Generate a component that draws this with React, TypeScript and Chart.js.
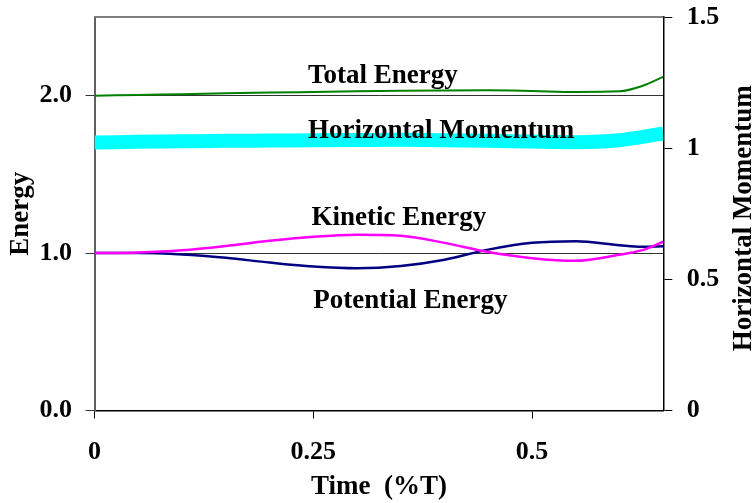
import { useEffect, useRef } from "react";
import { Chart, registerables } from "chart.js";

Chart.register(...registerables);

const timeValues = [0, 0.05, 0.1, 0.15, 0.2, 0.25, 0.3, 0.35, 0.4, 0.45, 0.5, 0.55, 0.6, 0.625, 0.65];
const totalEnergy = [2.0, 2.005, 2.01, 2.015, 2.02, 2.024, 2.028, 2.031, 2.033, 2.034, 2.03, 2.024, 2.028, 2.06, 2.12];
const horizontalMomentum = [1.022, 1.024, 1.026, 1.028, 1.029, 1.03, 1.031, 1.032, 1.03, 1.028, 1.025, 1.023, 1.03, 1.042, 1.056];
const kineticEnergy = [1.0, 1.004, 1.018, 1.045, 1.078, 1.104, 1.117, 1.11, 1.065, 1.007, 0.968, 0.951, 0.99, 1.017, 1.072];
const potentialEnergy = [1.0, 1.0, 0.991, 0.97, 0.94, 0.915, 0.904, 0.918, 0.958, 1.022, 1.065, 1.076, 1.05, 1.04, 1.043];

const energyTicks = [0, 1, 2];
const momentumTicks = [0, 0.5, 1, 1.5];
const timeTicks = [0, 0.25, 0.5];

const seriesLabels = [
  { text: "Total Energy", t: 0.244, e: 2.083 },
  { text: "Horizontal Momentum", t: 0.244, e: 1.733 },
  { text: "Kinetic Energy", t: 0.248, e: 1.18 },
  { text: "Potential Energy", t: 0.25, e: 0.652 },
];

const FONT = "'Liberation Serif', 'Times New Roman', serif";

const toPoints = (ys: number[]) => ys.map((y, i) => ({ x: timeValues[i], y }));

const overlayPlugin = {
  id: "overlay",
  afterDatasetsDraw(chart: any) {
    const { ctx, scales } = chart;
    ctx.save();
    ctx.fillStyle = "#000";
    ctx.font = `bold 27px ${FONT}`;
    ctx.textAlign = "left";
    ctx.textBaseline = "alphabetic";
    for (const l of seriesLabels) {
      ctx.fillText(l.text, scales.x.getPixelForValue(l.t), scales.y.getPixelForValue(l.e));
    }
    ctx.restore();
  },
  afterDraw(chart: any) {
    const { ctx, chartArea } = chart;
    ctx.save();
    ctx.strokeStyle = "#808080";
    ctx.lineWidth = 2;
    ctx.beginPath();
    ctx.moveTo(chartArea.left, chartArea.top);
    ctx.lineTo(chartArea.right, chartArea.top);
    ctx.stroke();
    // right axis title, reading bottom to top
    ctx.translate(chartArea.right + 81, (chartArea.top + chartArea.bottom) / 2 + 4.5);
    ctx.rotate(-Math.PI / 2);
    ctx.fillStyle = "#000";
    ctx.font = `bold 27px ${FONT}`;
    ctx.textAlign = "center";
    ctx.textBaseline = "middle";
    ctx.fillText("Horizontal Momentum", 0, 0);
    ctx.restore();
  },
};

const zeroPad = (s: any) => {
  s.paddingTop = 0;
  s.paddingBottom = 0;
  s.paddingLeft = 0;
  s.paddingRight = 0;
};

export default function App() {
  const ref = useRef<HTMLCanvasElement | null>(null);
  useEffect(() => {
    if (!ref.current) return;
    const tickFont = { family: FONT, size: 26, weight: "bold" as const };
    const titleFont = { family: FONT, size: 27, weight: "bold" as const };
    const chart = new Chart(ref.current, {
      type: "line",
      data: {
        datasets: [
          {
            label: "Total Energy",
            data: toPoints(totalEnergy),
            borderColor: "#008000",
            borderWidth: 2,
            yAxisID: "y",
          },
          {
            label: "Kinetic Energy",
            data: toPoints(kineticEnergy),
            borderColor: "#FF00FF",
            borderWidth: 2.5,
            yAxisID: "y",
          },
          {
            label: "Potential Energy",
            data: toPoints(potentialEnergy),
            borderColor: "#000080",
            borderWidth: 2.5,
            yAxisID: "y",
          },
          {
            label: "Horizontal Momentum",
            data: toPoints(horizontalMomentum),
            borderColor: "#00FFFF",
            borderWidth: 14,
            yAxisID: "y2",
          },
        ],
      },
      options: {
        animation: false,
        responsive: false,
        events: [],
        layout: { padding: { top: 17, left: 0, right: 0, bottom: 0 } },
        elements: {
          point: { radius: 0 },
          line: { cubicInterpolationMode: "monotone", fill: false, borderCapStyle: "butt" },
        },
        plugins: { legend: { display: false }, tooltip: { enabled: false } },
        scales: {
          x: {
            type: "linear",
            min: 0,
            max: 0.65,
            afterBuildTicks: (s: any) => {
              s.ticks = timeTicks.map((v) => ({ value: v }));
            },
            afterFit: (s: any) => {
              s.height = 92.5;
              zeroPad(s);
            },
            grid: { drawOnChartArea: false, tickLength: 8, color: "#000", lineWidth: 1 },
            border: { color: "#000", width: 1.5 },
            ticks: { font: tickFont, color: "#000", padding: 18, maxRotation: 0, callback: (v: any) => String(v) },
            title: {
              display: true,
              text: "Time  (%T)",
              color: "#000",
              font: titleFont,
              padding: { top: 0, bottom: 0 },
            },
          },
          y: {
            type: "linear",
            position: "left",
            min: 0,
            max: 2.5,
            afterBuildTicks: (s: any) => {
              s.ticks = energyTicks.map((v) => ({ value: v }));
            },
            afterFit: (s: any) => {
              s.width = 94.5;
              zeroPad(s);
            },
            grid: { drawOnChartArea: true, tickLength: 9, color: "#333", lineWidth: 1 },
            border: { color: "#606060", width: 2 },
            ticks: { font: tickFont, color: "#000", padding: 13.5, callback: (v: any) => Number(v).toFixed(1) },
            title: {
              display: true,
              text: "Energy",
              color: "#000",
              font: titleFont,
              padding: { top: 4.5, bottom: 0 },
            },
          },
          y2: {
            type: "linear",
            position: "right",
            min: 0,
            max: 1.5,
            afterBuildTicks: (s: any) => {
              s.ticks = momentumTicks.map((v) => ({ value: v }));
            },
            afterFit: (s: any) => {
              s.width = 91.7;
              zeroPad(s);
            },
            grid: { drawOnChartArea: false, tickLength: 9, color: "#000", lineWidth: 1 },
            border: { color: "#000", width: 1.5 },
            ticks: { font: tickFont, color: "#000", padding: 14.5, callback: (v: any) => String(v) },
          },
        },
      },
      plugins: [overlayPlugin],
    });
    return () => chart.destroy();
  }, []);
  return (
    <div style={{ position: "fixed", left: 0, top: 0, width: 755, height: 503, background: "#fff" }}>
      <canvas ref={ref} width={755} height={503} style={{ display: "block", width: 755, height: 503 }} />
    </div>
  );
}
